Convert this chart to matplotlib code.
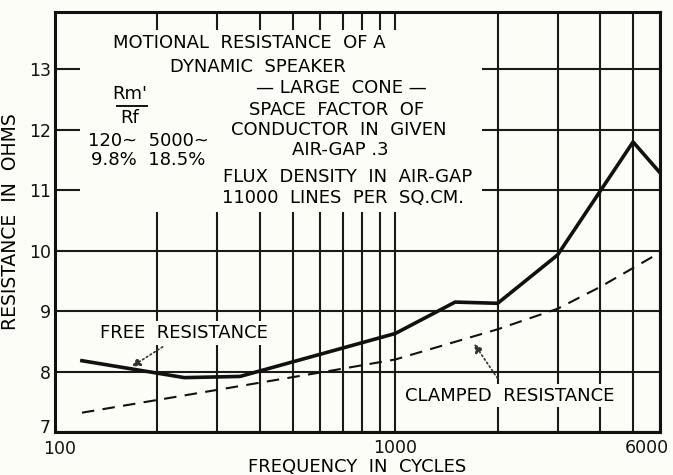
import matplotlib.pyplot as plt
from matplotlib.patches import Rectangle
from matplotlib.transforms import ScaledTranslation

plt.rcParams['font.family'] = ['DejaVu Sans']

# frequency (cycles) and resistance (ohms)
free_freq = [120, 240, 350, 1000, 1500, 2000, 3000, 5000, 6000]
free_res = [8.18, 7.90, 7.92, 8.63, 9.15, 9.13, 9.93, 11.80, 11.29]

clamped_freq = [120, 640, 1000, 2000, 3000, 4000, 6000]
clamped_res = [7.32, 8.01, 8.20, 8.70, 9.04, 9.40, 9.97]

major_x = [100, 1000, 6000]
minor_x = [200, 300, 400, 500, 600, 700, 800, 900, 2000, 3000, 4000, 5000]
y_ticks = [7, 8, 9, 10, 11, 12, 13]

note_lines = [
    "MOTIONAL  RESISTANCE  OF A",
    "DYNAMIC  SPEAKER",
    "— LARGE  CONE —",
    "SPACE  FACTOR  OF",
    "CONDUCTOR  IN  GIVEN",
    "AIR-GAP .3",
    "FLUX  DENSITY  IN  AIR-GAP",
    "11000  LINES  PER  SQ.CM.",
]

bg = '#fdfdf8'
ink = '#111111'
fs = 13

fig = plt.figure(figsize=(6.73, 4.75), dpi=100, facecolor=bg)
ax = fig.add_axes([0.0817, 0.0905, 0.8990, 0.8842])
ax.set_facecolor(bg)

ax.set_xscale('log')
ax.set_xlim(100, 6000)
ax.set_ylim(7, 13.95)

ax.set_xticks(major_x)
ax.set_xticklabels([str(v) for v in major_x])
ax.set_xticks(minor_x, minor=True)
ax.xaxis.set_minor_formatter(plt.NullFormatter())
ax.set_yticks(y_ticks)
ax.tick_params(which='both', length=0, labelsize=12.5, pad=5, colors=ink)
ax.tick_params(axis='y', pad=3)

# nudge the corner labels so they don't collide
def shift(lbl, dx, dy):
    lbl.set_transform(lbl.get_transform() + ScaledTranslation(dx / 100, dy / 100, fig.dpi_scale_trans))

xl = ax.get_xticklabels()
shift(xl[0], 5, -1)
shift(xl[-1], -13, 0)
shift(ax.get_yticklabels()[0], 0, 6)

ax.grid(True, which='both', color='#1a1a1a', linewidth=1.5, zorder=0)
ax.set_axisbelow(True)
for s in ax.spines.values():
    s.set_linewidth(2.2)
    s.set_color(ink)
    s.set_zorder(5)

# blank panel behind the notes
ax.add_patch(Rectangle((0.041, 0.524), 0.665, 0.433, transform=ax.transAxes,
                       facecolor=bg, edgecolor='none', zorder=1))

ax.plot(free_freq, free_res, color=ink, linewidth=2.6, zorder=3)
ax.plot(clamped_freq, clamped_res, color=ink, linewidth=1.5,
        dashes=(6, 4), zorder=3)

ax.set_xlabel("FREQUENCY  IN  CYCLES", fontsize=13, labelpad=0)
ax.set_ylabel("RESISTANCE  IN  OHMS", fontsize=13.5, labelpad=6)

ys = [0.926, 0.869, 0.819, 0.767, 0.719, 0.671, 0.607, 0.557]
xs = [0.321, 0.336, 0.473, 0.466, 0.469, 0.471, 0.483, 0.476]
for t, xx, yy in zip(note_lines, xs, ys):
    ax.text(xx, yy, t, transform=ax.transAxes, ha='center', va='center',
            fontsize=fs, zorder=4)

# Rm'/Rf ratio block
ax.text(0.124, 0.805, "Rm'", transform=ax.transAxes, ha='center', va='center',
        fontsize=fs, zorder=4)
ax.plot([0.102, 0.152], [0.777, 0.777], transform=ax.transAxes,
        color=ink, linewidth=1.4, zorder=4)
ax.text(0.124, 0.748, "Rf", transform=ax.transAxes, ha='center', va='center',
        fontsize=fs, zorder=4)
ax.text(0.155, 0.692, "120~  5000~", transform=ax.transAxes, ha='center',
        va='center', fontsize=fs, zorder=4)
ax.text(0.154, 0.648, "9.8%  18.5%", transform=ax.transAxes, ha='center',
        va='center', fontsize=fs, zorder=4)

ax.annotate("FREE  RESISTANCE", xy=(168, 8.08), xytext=(240, 8.64),
            fontsize=fs, ha='center', va='center', zorder=4,
            bbox=dict(boxstyle='square,pad=0.15', facecolor=bg, edgecolor='none'),
            arrowprops=dict(arrowstyle='-|>', linestyle=':', color='#333333',
                            linewidth=1.2, shrinkA=3, shrinkB=0))
ax.annotate("CLAMPED  RESISTANCE", xy=(1705, 8.46), xytext=(2166, 7.60),
            fontsize=fs, ha='center', va='center', zorder=4,
            bbox=dict(boxstyle='square,pad=0.15', facecolor=bg, edgecolor='none'),
            arrowprops=dict(arrowstyle='-|>', linestyle=':', color='#333333',
                            linewidth=1.2, shrinkA=5, shrinkB=0))

fig.savefig("out.png", dpi=100, facecolor=bg)
